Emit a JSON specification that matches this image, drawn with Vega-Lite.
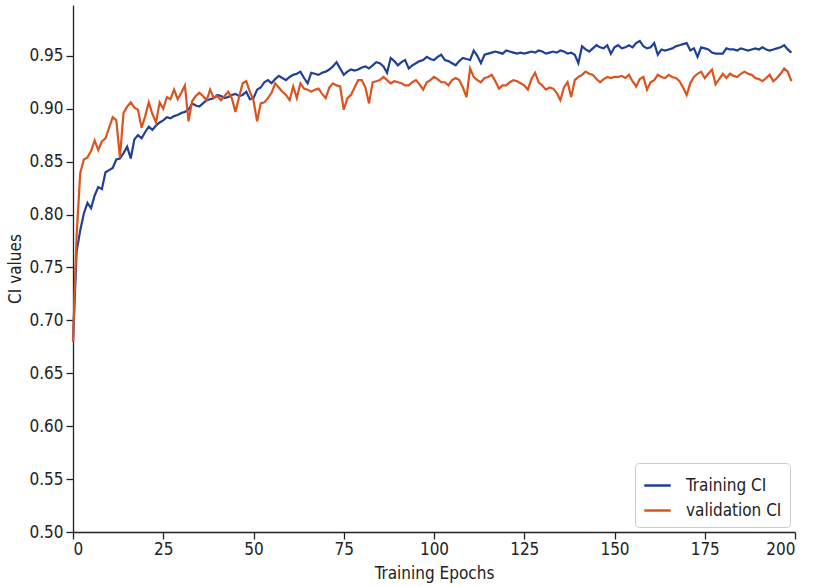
{
"$schema": "https://vega.github.io/schema/vega-lite/v6.json",
"width": 722, "height": 527,
"autosize": {"type": "none"},
"padding": {"left": 73, "top": 5, "right": 18, "bottom": 55},
"background": "white",
"config": {
  "view": {"stroke": null},
  "font": "DejaVu Sans Condensed",
  "axis": {"grid": false, "domainColor": "#222222", "tickColor": "#222222", "domainWidth": 1.3, "tickWidth": 1.3, "tickSize": 7, "labelFontSize": 17, "titleFontSize": 17, "labelColor": "#222222", "titleColor": "#222222", "titleFontWeight": "normal", "labelPadding": 3}
},
"data": {"values": [
{"epoch":0,"Training CI":0.680,"validation CI":0.680},
{"epoch":1,"Training CI":0.765,"validation CI":0.780},
{"epoch":2,"Training CI":0.785,"validation CI":0.839},
{"epoch":3,"Training CI":0.801,"validation CI":0.852},
{"epoch":4,"Training CI":0.811,"validation CI":0.854},
{"epoch":5,"Training CI":0.806,"validation CI":0.860},
{"epoch":6,"Training CI":0.818,"validation CI":0.870},
{"epoch":7,"Training CI":0.826,"validation CI":0.861},
{"epoch":8,"Training CI":0.824,"validation CI":0.869},
{"epoch":9,"Training CI":0.840,"validation CI":0.872},
{"epoch":10,"Training CI":0.842,"validation CI":0.882},
{"epoch":11,"Training CI":0.844,"validation CI":0.892},
{"epoch":12,"Training CI":0.852,"validation CI":0.889},
{"epoch":13,"Training CI":0.853,"validation CI":0.854},
{"epoch":14,"Training CI":0.858,"validation CI":0.896},
{"epoch":15,"Training CI":0.864,"validation CI":0.902},
{"epoch":16,"Training CI":0.853,"validation CI":0.906},
{"epoch":17,"Training CI":0.871,"validation CI":0.901},
{"epoch":18,"Training CI":0.875,"validation CI":0.899},
{"epoch":19,"Training CI":0.872,"validation CI":0.882},
{"epoch":20,"Training CI":0.878,"validation CI":0.893},
{"epoch":21,"Training CI":0.883,"validation CI":0.906},
{"epoch":22,"Training CI":0.880,"validation CI":0.895},
{"epoch":23,"Training CI":0.884,"validation CI":0.887},
{"epoch":24,"Training CI":0.887,"validation CI":0.906},
{"epoch":25,"Training CI":0.889,"validation CI":0.900},
{"epoch":26,"Training CI":0.892,"validation CI":0.911},
{"epoch":27,"Training CI":0.891,"validation CI":0.909},
{"epoch":28,"Training CI":0.893,"validation CI":0.918},
{"epoch":29,"Training CI":0.894,"validation CI":0.909},
{"epoch":30,"Training CI":0.896,"validation CI":0.915},
{"epoch":31,"Training CI":0.897,"validation CI":0.922},
{"epoch":32,"Training CI":0.899,"validation CI":0.888},
{"epoch":33,"Training CI":0.905,"validation CI":0.907},
{"epoch":34,"Training CI":0.903,"validation CI":0.912},
{"epoch":35,"Training CI":0.902,"validation CI":0.915},
{"epoch":36,"Training CI":0.905,"validation CI":0.912},
{"epoch":37,"Training CI":0.908,"validation CI":0.908},
{"epoch":38,"Training CI":0.909,"validation CI":0.918},
{"epoch":39,"Training CI":0.910,"validation CI":0.910},
{"epoch":40,"Training CI":0.913,"validation CI":0.912},
{"epoch":41,"Training CI":0.912,"validation CI":0.908},
{"epoch":42,"Training CI":0.910,"validation CI":0.912},
{"epoch":43,"Training CI":0.911,"validation CI":0.916},
{"epoch":44,"Training CI":0.913,"validation CI":0.910},
{"epoch":45,"Training CI":0.914,"validation CI":0.897},
{"epoch":46,"Training CI":0.912,"validation CI":0.911},
{"epoch":47,"Training CI":0.913,"validation CI":0.924},
{"epoch":48,"Training CI":0.916,"validation CI":0.926},
{"epoch":49,"Training CI":0.909,"validation CI":0.916},
{"epoch":50,"Training CI":0.910,"validation CI":0.908},
{"epoch":51,"Training CI":0.918,"validation CI":0.888},
{"epoch":52,"Training CI":0.920,"validation CI":0.905},
{"epoch":53,"Training CI":0.925,"validation CI":0.906},
{"epoch":54,"Training CI":0.927,"validation CI":0.910},
{"epoch":55,"Training CI":0.924,"validation CI":0.915},
{"epoch":56,"Training CI":0.928,"validation CI":0.924},
{"epoch":57,"Training CI":0.931,"validation CI":0.920},
{"epoch":58,"Training CI":0.929,"validation CI":0.916},
{"epoch":59,"Training CI":0.927,"validation CI":0.913},
{"epoch":60,"Training CI":0.930,"validation CI":0.908},
{"epoch":61,"Training CI":0.932,"validation CI":0.921},
{"epoch":62,"Training CI":0.933,"validation CI":0.910},
{"epoch":63,"Training CI":0.935,"validation CI":0.924},
{"epoch":64,"Training CI":0.929,"validation CI":0.919},
{"epoch":65,"Training CI":0.924,"validation CI":0.918},
{"epoch":66,"Training CI":0.934,"validation CI":0.916},
{"epoch":67,"Training CI":0.933,"validation CI":0.918},
{"epoch":68,"Training CI":0.932,"validation CI":0.919},
{"epoch":69,"Training CI":0.934,"validation CI":0.914},
{"epoch":70,"Training CI":0.935,"validation CI":0.910},
{"epoch":71,"Training CI":0.937,"validation CI":0.920},
{"epoch":72,"Training CI":0.940,"validation CI":0.924},
{"epoch":73,"Training CI":0.944,"validation CI":0.922},
{"epoch":74,"Training CI":0.938,"validation CI":0.921},
{"epoch":75,"Training CI":0.932,"validation CI":0.899},
{"epoch":76,"Training CI":0.935,"validation CI":0.910},
{"epoch":77,"Training CI":0.937,"validation CI":0.913},
{"epoch":78,"Training CI":0.936,"validation CI":0.920},
{"epoch":79,"Training CI":0.937,"validation CI":0.927},
{"epoch":80,"Training CI":0.939,"validation CI":0.927},
{"epoch":81,"Training CI":0.940,"validation CI":0.920},
{"epoch":82,"Training CI":0.938,"validation CI":0.905},
{"epoch":83,"Training CI":0.941,"validation CI":0.925},
{"epoch":84,"Training CI":0.944,"validation CI":0.926},
{"epoch":85,"Training CI":0.943,"validation CI":0.927},
{"epoch":86,"Training CI":0.940,"validation CI":0.930},
{"epoch":87,"Training CI":0.934,"validation CI":0.927},
{"epoch":88,"Training CI":0.948,"validation CI":0.924},
{"epoch":89,"Training CI":0.945,"validation CI":0.926},
{"epoch":90,"Training CI":0.941,"validation CI":0.925},
{"epoch":91,"Training CI":0.944,"validation CI":0.924},
{"epoch":92,"Training CI":0.946,"validation CI":0.922},
{"epoch":93,"Training CI":0.938,"validation CI":0.922},
{"epoch":94,"Training CI":0.941,"validation CI":0.925},
{"epoch":95,"Training CI":0.943,"validation CI":0.927},
{"epoch":96,"Training CI":0.945,"validation CI":0.923},
{"epoch":97,"Training CI":0.946,"validation CI":0.918},
{"epoch":98,"Training CI":0.949,"validation CI":0.925},
{"epoch":99,"Training CI":0.947,"validation CI":0.927},
{"epoch":100,"Training CI":0.946,"validation CI":0.930},
{"epoch":101,"Training CI":0.949,"validation CI":0.928},
{"epoch":102,"Training CI":0.951,"validation CI":0.925},
{"epoch":103,"Training CI":0.946,"validation CI":0.925},
{"epoch":104,"Training CI":0.945,"validation CI":0.922},
{"epoch":105,"Training CI":0.943,"validation CI":0.927},
{"epoch":106,"Training CI":0.941,"validation CI":0.929},
{"epoch":107,"Training CI":0.945,"validation CI":0.927},
{"epoch":108,"Training CI":0.948,"validation CI":0.920},
{"epoch":109,"Training CI":0.947,"validation CI":0.911},
{"epoch":110,"Training CI":0.946,"validation CI":0.938},
{"epoch":111,"Training CI":0.955,"validation CI":0.930},
{"epoch":112,"Training CI":0.950,"validation CI":0.927},
{"epoch":113,"Training CI":0.943,"validation CI":0.925},
{"epoch":114,"Training CI":0.951,"validation CI":0.929},
{"epoch":115,"Training CI":0.952,"validation CI":0.930},
{"epoch":116,"Training CI":0.953,"validation CI":0.932},
{"epoch":117,"Training CI":0.954,"validation CI":0.926},
{"epoch":118,"Training CI":0.953,"validation CI":0.919},
{"epoch":119,"Training CI":0.952,"validation CI":0.922},
{"epoch":120,"Training CI":0.955,"validation CI":0.922},
{"epoch":121,"Training CI":0.954,"validation CI":0.925},
{"epoch":122,"Training CI":0.953,"validation CI":0.927},
{"epoch":123,"Training CI":0.952,"validation CI":0.926},
{"epoch":124,"Training CI":0.953,"validation CI":0.924},
{"epoch":125,"Training CI":0.952,"validation CI":0.922},
{"epoch":126,"Training CI":0.953,"validation CI":0.918},
{"epoch":127,"Training CI":0.954,"validation CI":0.928},
{"epoch":128,"Training CI":0.953,"validation CI":0.934},
{"epoch":129,"Training CI":0.955,"validation CI":0.925},
{"epoch":130,"Training CI":0.954,"validation CI":0.922},
{"epoch":131,"Training CI":0.952,"validation CI":0.918},
{"epoch":132,"Training CI":0.953,"validation CI":0.920},
{"epoch":133,"Training CI":0.954,"validation CI":0.919},
{"epoch":134,"Training CI":0.953,"validation CI":0.915},
{"epoch":135,"Training CI":0.955,"validation CI":0.908},
{"epoch":136,"Training CI":0.954,"validation CI":0.920},
{"epoch":137,"Training CI":0.952,"validation CI":0.925},
{"epoch":138,"Training CI":0.953,"validation CI":0.911},
{"epoch":139,"Training CI":0.951,"validation CI":0.927},
{"epoch":140,"Training CI":0.943,"validation CI":0.930},
{"epoch":141,"Training CI":0.959,"validation CI":0.932},
{"epoch":142,"Training CI":0.956,"validation CI":0.935},
{"epoch":143,"Training CI":0.954,"validation CI":0.933},
{"epoch":144,"Training CI":0.957,"validation CI":0.932},
{"epoch":145,"Training CI":0.960,"validation CI":0.928},
{"epoch":146,"Training CI":0.958,"validation CI":0.925},
{"epoch":147,"Training CI":0.957,"validation CI":0.928},
{"epoch":148,"Training CI":0.960,"validation CI":0.930},
{"epoch":149,"Training CI":0.952,"validation CI":0.929},
{"epoch":150,"Training CI":0.958,"validation CI":0.930},
{"epoch":151,"Training CI":0.960,"validation CI":0.930},
{"epoch":152,"Training CI":0.957,"validation CI":0.931},
{"epoch":153,"Training CI":0.958,"validation CI":0.929},
{"epoch":154,"Training CI":0.960,"validation CI":0.932},
{"epoch":155,"Training CI":0.958,"validation CI":0.926},
{"epoch":156,"Training CI":0.962,"validation CI":0.921},
{"epoch":157,"Training CI":0.964,"validation CI":0.928},
{"epoch":158,"Training CI":0.959,"validation CI":0.930},
{"epoch":159,"Training CI":0.957,"validation CI":0.918},
{"epoch":160,"Training CI":0.958,"validation CI":0.925},
{"epoch":161,"Training CI":0.962,"validation CI":0.927},
{"epoch":162,"Training CI":0.951,"validation CI":0.932},
{"epoch":163,"Training CI":0.956,"validation CI":0.930},
{"epoch":164,"Training CI":0.955,"validation CI":0.929},
{"epoch":165,"Training CI":0.956,"validation CI":0.932},
{"epoch":166,"Training CI":0.957,"validation CI":0.930},
{"epoch":167,"Training CI":0.959,"validation CI":0.929},
{"epoch":168,"Training CI":0.960,"validation CI":0.926},
{"epoch":169,"Training CI":0.961,"validation CI":0.920},
{"epoch":170,"Training CI":0.962,"validation CI":0.913},
{"epoch":171,"Training CI":0.955,"validation CI":0.924},
{"epoch":172,"Training CI":0.957,"validation CI":0.930},
{"epoch":173,"Training CI":0.949,"validation CI":0.933},
{"epoch":174,"Training CI":0.958,"validation CI":0.935},
{"epoch":175,"Training CI":0.957,"validation CI":0.929},
{"epoch":176,"Training CI":0.956,"validation CI":0.933},
{"epoch":177,"Training CI":0.953,"validation CI":0.937},
{"epoch":178,"Training CI":0.952,"validation CI":0.923},
{"epoch":179,"Training CI":0.952,"validation CI":0.928},
{"epoch":180,"Training CI":0.952,"validation CI":0.933},
{"epoch":181,"Training CI":0.957,"validation CI":0.929},
{"epoch":182,"Training CI":0.956,"validation CI":0.933},
{"epoch":183,"Training CI":0.956,"validation CI":0.931},
{"epoch":184,"Training CI":0.955,"validation CI":0.930},
{"epoch":185,"Training CI":0.957,"validation CI":0.933},
{"epoch":186,"Training CI":0.956,"validation CI":0.935},
{"epoch":187,"Training CI":0.955,"validation CI":0.933},
{"epoch":188,"Training CI":0.956,"validation CI":0.932},
{"epoch":189,"Training CI":0.957,"validation CI":0.929},
{"epoch":190,"Training CI":0.956,"validation CI":0.928},
{"epoch":191,"Training CI":0.958,"validation CI":0.926},
{"epoch":192,"Training CI":0.956,"validation CI":0.929},
{"epoch":193,"Training CI":0.955,"validation CI":0.932},
{"epoch":194,"Training CI":0.956,"validation CI":0.926},
{"epoch":195,"Training CI":0.957,"validation CI":0.929},
{"epoch":196,"Training CI":0.958,"validation CI":0.933},
{"epoch":197,"Training CI":0.960,"validation CI":0.938},
{"epoch":198,"Training CI":0.956,"validation CI":0.935},
{"epoch":199,"Training CI":0.953,"validation CI":0.926}
]},
"transform": [{"fold": ["Training CI", "validation CI"], "as": ["series", "value"]}],
"mark": {"type": "line", "strokeWidth": 2.2},
"encoding": {
  "x": {"field": "epoch", "type": "quantitative", "scale": {"domain": [0, 200], "nice": false}, "axis": {"values": [0, 25, 50, 75, 100, 125, 150, 175, 200], "title": "Training Epochs", "labelPadding": 2, "titlePadding": 8}},
  "y": {"field": "value", "type": "quantitative", "scale": {"domain": [0.5, 0.998], "nice": false, "zero": false}, "axis": {"values": [0.5, 0.55, 0.6, 0.65, 0.7, 0.75, 0.8, 0.85, 0.9, 0.95], "format": ".2f", "title": "CI values", "titlePadding": 4}},
  "color": {"field": "series", "type": "nominal", "scale": {"domain": ["Training CI", "validation CI"], "range": ["#1f3f99", "#d9541e"]},
    "legend": {"title": null, "orient": "bottom-right", "offset": 5, "symbolType": "stroke", "symbolStrokeWidth": 2.5, "symbolSize": 700, "labelFontSize": 17, "labelColor": "#222222", "padding": 8, "strokeColor": "#cccccc", "fillColor": "white", "cornerRadius": 4, "rowPadding": 2, "labelOffset": 14}}
}
}
